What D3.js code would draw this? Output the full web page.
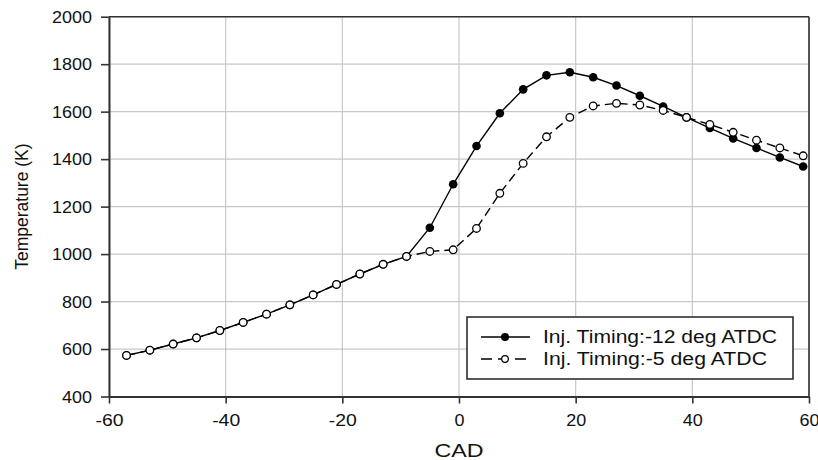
<!DOCTYPE html>
<html>
<head>
<meta charset="utf-8">
<script src="https://cdn.jsdelivr.net/npm/d3@7"></script>
<style>
  html, body { margin: 0; padding: 0; background: #fff; }
  svg { display: block; font-family: "Liberation Sans", Arial, sans-serif; }
</style>
</head>
<body>
<svg id="chart" width="818" height="460"></svg>
<script>
const cad = [-57, -53, -49, -45, -41, -37, -33, -29, -25, -21, -17, -13, -9,
             -5, -1, 3, 7, 11, 15, 19, 23, 27, 31, 35, 39, 43, 47, 51, 55, 59];
const tempEarly = [573, 595, 621, 647, 678, 712, 747, 786, 828, 872, 916, 957, 990,
                   1111, 1294, 1455, 1593, 1694, 1753, 1766, 1745, 1710, 1667, 1622, 1576, 1531, 1487, 1447, 1407, 1369];
const tempLate = [573, 595, 621, 647, 678, 712, 747, 786, 828, 872, 916, 957, 990,
                  1011, 1018, 1108, 1256, 1382, 1494, 1576, 1624, 1635, 1628, 1605, 1576, 1546, 1513, 1480, 1447, 1414];
const xTicks = [-60, -40, -20, 0, 20, 40, 60];
const yTicks = [400, 600, 800, 1000, 1200, 1400, 1600, 1800, 2000];
const seriesNames = ["Inj. Timing:-12 deg ATDC", "Inj. Timing:-5 deg ATDC"];
const xLabel = "CAD";
const yLabel = "Temperature (K)";

const svg = d3.select("#chart");
const L = 109, R = 809, T = 16.7, B = 396.5;
const x = d3.scaleLinear().domain([-60, 60]).range([L, R]);
const y = d3.scaleLinear().domain([400, 2000]).range([B, T]);

// grid
const grid = svg.append("g");
grid.selectAll("line.vx").data(xTicks).join("line")
  .attr("x1", d => x(d)).attr("x2", d => x(d)).attr("y1", T).attr("y2", B)
  .attr("stroke", "#c8c8c8").attr("stroke-width", 1.2);
grid.selectAll("line.hy").data(yTicks).join("line")
  .attr("x1", L).attr("x2", R).attr("y1", d => y(d)).attr("y2", d => y(d))
  .attr("stroke", "#c8c8c8").attr("stroke-width", 1.2);

// frame top/right
svg.append("line").attr("x1", L).attr("x2", R).attr("y1", T).attr("y2", T).attr("stroke", "#333").attr("stroke-width", 1.6);
svg.append("line").attr("x1", R).attr("x2", R).attr("y1", T).attr("y2", B).attr("stroke", "#333").attr("stroke-width", 1.6);

// axes
const fmt = d => String(d);
const xAxis = svg.append("g").attr("transform", `translate(0,${B})`)
  .call(d3.axisBottom(x).tickValues(xTicks).tickSize(7).tickSizeOuter(0).tickFormat(fmt));
const yAxis = svg.append("g").attr("transform", `translate(${L},0)`)
  .call(d3.axisLeft(y).tickValues(yTicks).tickSize(8).tickSizeOuter(0).tickFormat(fmt));
[xAxis, yAxis].forEach(a => {
  a.select(".domain").attr("stroke", "#333").attr("stroke-width", 2);
  a.selectAll(".tick line").attr("stroke", "#333").attr("stroke-width", 1.6);
  a.selectAll("text").attr("fill", "#111").attr("font-size", 16)
    .attr("font-family", '"Liberation Sans", Arial, sans-serif');
});
xAxis.selectAll("text").attr("dy", null).attr("y", 29)
  .attr("textLength", d => String(d).length * 10 + (d < 0 ? -2 : 0)).attr("lengthAdjust", "spacingAndGlyphs");
yAxis.selectAll("text").attr("x", -17).attr("dy", "0.36em")
  .attr("textLength", d => String(d).length * 10).attr("lengthAdjust", "spacingAndGlyphs");

// axis titles
svg.append("text").attr("x", x(0)).attr("y", 457).attr("text-anchor", "middle")
  .attr("font-size", 18.5).attr("fill", "#111").attr("textLength", 49).attr("lengthAdjust", "spacingAndGlyphs")
  .text(xLabel);
svg.append("text").attr("transform", `translate(28,${(T + B) / 2}) rotate(-90)`)
  .attr("text-anchor", "middle").attr("font-size", 17.5).attr("fill", "#111")
  .text(yLabel);

// series
const early = cad.map((c, i) => ({ x: c, y: tempEarly[i] }));
const late = cad.map((c, i) => ({ x: c, y: tempLate[i] }));
const line = d3.line().x(d => x(d.x)).y(d => y(d.y));

svg.append("path").datum(early).attr("d", line).attr("fill", "none")
  .attr("stroke", "#000").attr("stroke-width", 1.4);
svg.append("g").selectAll("circle").data(early).join("circle")
  .attr("cx", d => x(d.x)).attr("cy", d => y(d.y)).attr("r", 4.3).attr("fill", "#000");

svg.append("path").datum(late).attr("d", line).attr("fill", "none")
  .attr("stroke", "#000").attr("stroke-width", 1.4).attr("stroke-dasharray", "9,5");
svg.append("g").selectAll("circle").data(late).join("circle")
  .attr("cx", d => x(d.x)).attr("cy", d => y(d.y)).attr("r", 3.8)
  .attr("fill", "#fff").attr("stroke", "#000").attr("stroke-width", 1.3);

// legend
const lg = svg.append("g");
lg.append("rect").attr("x", 467).attr("y", 317).attr("width", 326).attr("height", 62)
  .attr("fill", "#fff").attr("stroke", "#222").attr("stroke-width", 1.5);
const rows = [337, 359];
lg.append("line").attr("x1", 481).attr("x2", 530).attr("y1", rows[0]).attr("y2", rows[0]).attr("stroke", "#000").attr("stroke-width", 1.4);
lg.append("circle").attr("cx", 505).attr("cy", rows[0]).attr("r", 4).attr("fill", "#000");
lg.append("line").attr("x1", 481).attr("x2", 530).attr("y1", rows[1]).attr("y2", rows[1]).attr("stroke", "#000").attr("stroke-width", 1.4).attr("stroke-dasharray", "11,6");
lg.append("circle").attr("cx", 505).attr("cy", rows[1]).attr("r", 3.3).attr("fill", "#fff").attr("stroke", "#000").attr("stroke-width", 1.2);
lg.selectAll("text").data(seriesNames).join("text")
  .attr("x", 543).attr("y", (d, i) => rows[i]).attr("dy", "0.36em")
  .attr("font-size", 17.5).attr("fill", "#111")
  .attr("textLength", (d, i) => i === 0 ? 234 : 224).attr("lengthAdjust", "spacingAndGlyphs")
  .text(d => d);
</script>
</body>
</html>
